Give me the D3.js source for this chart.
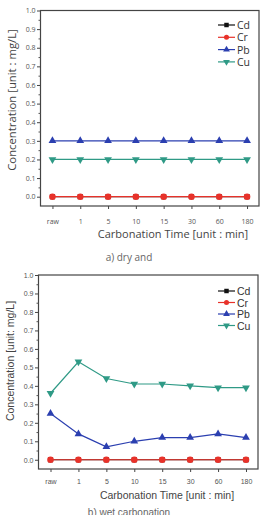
<!DOCTYPE html>
<html><head><meta charset="utf-8">
<script src="https://cdn.jsdelivr.net/npm/d3@7/dist/d3.min.js"></script>
<style>
html,body{margin:0;padding:0;background:#fff;}
svg{display:block;}
</style></head>
<body>
<svg id="c" width="265" height="515"></svg>
<script>
const categories = ["raw","1","5","10","15","30","60","180"];
const seriesNames = ["Cd","Cr","Pb","Cu"];
const yTicks = [0,0.1,0.2,0.3,0.4,0.5,0.6,0.7,0.8,0.9,1.0];
const yMinorTicks = [0.05,0.15,0.25,0.35,0.45,0.55,0.65,0.75,0.85,0.95];

const dryCd = [0,0,0,0,0,0,0,0];
const dryCr = [0,0,0,0,0,0,0,0];
const dryPb = [0.30,0.30,0.30,0.30,0.30,0.30,0.30,0.30];
const dryCu = [0.20,0.20,0.20,0.20,0.20,0.20,0.20,0.20];

const wetCd = [0,0,0,0,0,0,0,0];
const wetCr = [0,0,0,0,0,0,0,0];
const wetPb = [0.25,0.14,0.07,0.10,0.12,0.12,0.14,0.12];
const wetCu = [0.36,0.53,0.44,0.41,0.41,0.40,0.39,0.39];

const colors = {Cd:"#111111", Cr:"#e8322a", Pb:"#2b3fb0", Cu:"#2f9a86"};
const shapes = {Cd:d3.symbolSquare, Cr:d3.symbolCircle, Pb:d3.symbolTriangle, Cu:d3.symbolTriangle};

const panels = [
  {data:{Cd:dryCd,Cr:dryCr,Pb:dryPb,Cu:dryCu}, x0:40.5, x1:259, y0:10.5, y1:206,
   font:"'Open Sans', 'Noto Sans', sans-serif", ytitle:"Concentration [unit : mg/L]", ytitleSize:"11.3px",
   xtitle:"Carbonation Time [unit : min]", xtitleSize:"11px", caption:"a) dry and", captionY:261,
   legendY:25, legendStep:12.3, ytitleX:15.5, ytitleY:100, xtitleY:238, tickLabelY:221, xtitleX:173},
  {data:{Cd:wetCd,Cr:wetCr,Pb:wetPb,Cu:wetCu}, x0:38.5, x1:258, y0:275, y1:469,
   font:"'Liberation Sans', Arial, sans-serif", ytitle:"Concentration [unit: mg/L]", ytitleSize:"10.5px",
   xtitle:"Carbonation Time [unit : min]", xtitleSize:"10.5px", caption:"b) wet carbonation", captionY:516,
   legendY:291, legendStep:11.5, ytitleX:14, ytitleY:361, xtitleY:499, tickLabelY:481, xtitleX:167}
];

const svg = d3.select("#c");

panels.forEach(p => {
  const g = svg.append("g").style("font-family", p.font);
  const x = d3.scalePoint().domain(categories).range([p.x0, p.x1]).padding(0.43);
  const y = d3.scaleLinear().domain([-0.05, 1.0]).range([p.y1, p.y0]);

  // frame
  g.append("rect").attr("x", p.x0).attr("y", p.y0).attr("width", p.x1 - p.x0).attr("height", p.y1 - p.y0)
    .attr("fill", "none").attr("stroke", "#444").attr("stroke-width", 1.2);

  // minor y ticks
  const ym = g.append("g").attr("transform", `translate(${p.x0},0)`)
    .call(d3.axisLeft(y).tickValues(yMinorTicks).tickFormat("").tickSize(2));
  ym.select(".domain").remove();
  ym.selectAll("line").attr("stroke", "#555");

  // y axis
  const ya = g.append("g").attr("transform", `translate(${p.x0},0)`)
    .call(d3.axisLeft(y).tickValues(yTicks).tickFormat(d3.format(".1f")).tickSize(3.5).tickPadding(1.5));
  ya.select(".domain").remove();
  ya.selectAll("line").attr("stroke", "#444");
  ya.selectAll("text").attr("fill", "#555").style("font-size", "7px").style("font-family", p.font);

  // x axis
  const xa = g.append("g").attr("transform", `translate(0,${p.y1})`)
    .call(d3.axisBottom(x).tickSize(3).tickPadding(0));
  xa.select(".domain").remove();
  xa.selectAll("line").attr("stroke", "#444");
  xa.selectAll("text").attr("fill", "#555").style("font-size", "7px").style("font-family", p.font)
    .attr("y", null).attr("dy", null)
    .attr("transform", `translate(0,${p.tickLabelY - p.y1 + 2.5})`);

  // lines & markers
  seriesNames.forEach(s => {
    const vals = p.data[s];
    const pts = categories.map((c, i) => [x(c), y(vals[i])]);
    g.append("path").attr("d", d3.line()(pts)).attr("fill", "none")
      .attr("stroke", colors[s]).attr("stroke-width", 1.2);
    g.selectAll(null).data(pts).join("path")
      .attr("transform", d => `translate(${d[0]},${d[1]})` + (s === "Cu" ? " rotate(180)" : ""))
      .attr("d", d3.symbol().type(shapes[s]).size(s === "Cr" ? 34 : 26))
      .attr("fill", colors[s]);
  });

  // legend
  seriesNames.forEach((s, i) => {
    const ly = p.legendY + i * p.legendStep;
    g.append("line").attr("x1", 218).attr("x2", 235).attr("y1", ly).attr("y2", ly)
      .attr("stroke", colors[s]).attr("stroke-width", 1.2);
    g.append("path").attr("transform", `translate(226.5,${ly})` + (s === "Cu" ? " rotate(180)" : ""))
      .attr("d", d3.symbol().type(shapes[s]).size(20)).attr("fill", colors[s]);
    g.append("text").attr("x", 237).attr("y", ly + 4).text(s)
      .attr("fill", "#333").style("font-size", "10.5px");
  });

  // titles
  g.append("text").attr("transform", `translate(${p.ytitleX},${p.ytitleY}) rotate(-90)`)
    .attr("text-anchor", "middle").attr("fill", "#444").style("font-size", p.ytitleSize).text(p.ytitle);
  g.append("text").attr("x", p.xtitleX).attr("y", p.xtitleY).attr("text-anchor", "middle")
    .attr("fill", "#444").style("font-size", p.xtitleSize).text(p.xtitle);
  g.append("text").attr("x", 129).attr("y", p.captionY).attr("text-anchor", "middle")
    .attr("fill", "#666").style("font-size", "10px").text(p.caption);
});
</script>
</body></html>
